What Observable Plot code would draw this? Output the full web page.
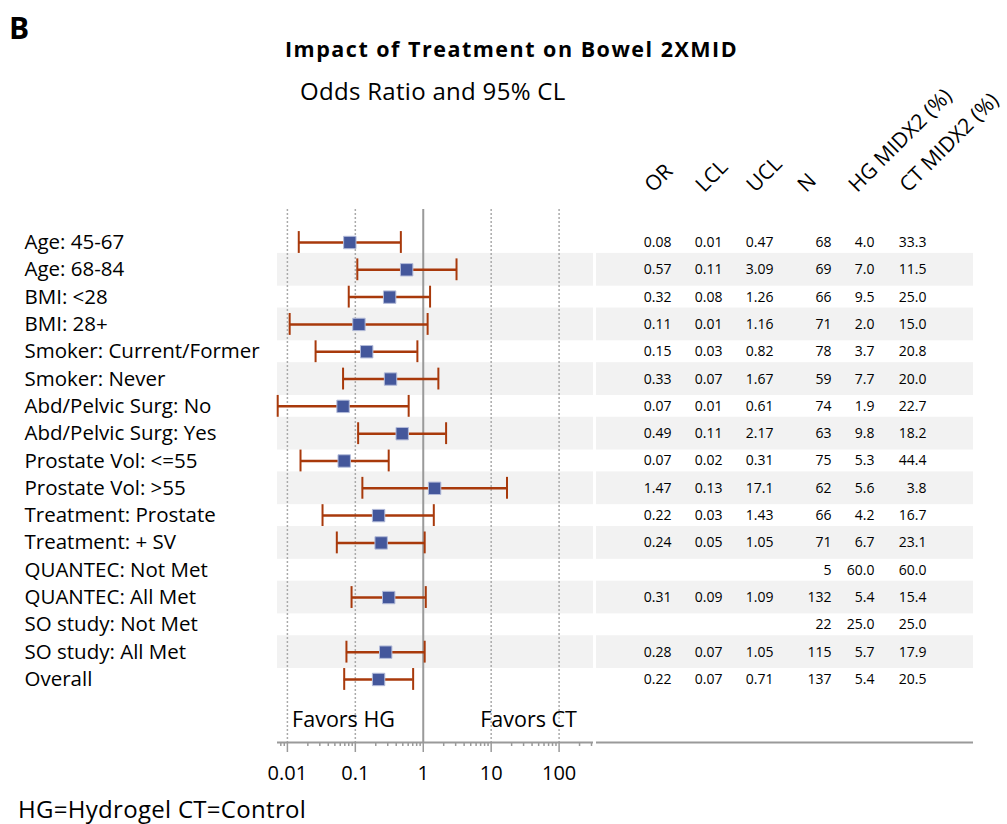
<!DOCTYPE html>
<html><head><meta charset="utf-8">
<script src="https://cdn.jsdelivr.net/npm/d3@7"></script>
<script src="https://cdn.jsdelivr.net/npm/@observablehq/plot@0.6"></script>
<style>
body{margin:0;background:#fff;font-family:"Open Sans",sans-serif;}
#wrap{position:relative;width:1007px;height:824px;overflow:hidden;background:#fff;}
.abs{position:absolute;white-space:nowrap;color:#000;line-height:1;}
</style></head><body>
<div id="wrap">
<div id="forest" class="abs" style="left:0;top:0"></div>
<div id="table" class="abs" style="left:596px;top:0"></div>
<div class="abs" style="left:9px;top:13px;font-weight:bold;font-size:30px;">B</div>
<div class="abs" style="left:285px;top:38px;font-weight:bold;font-size:21.5px;letter-spacing:1.5px;">Impact of Treatment on Bowel 2XMID</div>
<div class="abs" style="left:300px;top:79px;font-size:24px;letter-spacing:0.3px;">Odds Ratio and 95% CL</div>
<div class="abs" style="left:18px;top:797px;font-size:24px;letter-spacing:0.3px;">HG=Hydrogel CT=Control</div>
</div>
<script>
// ---- data ----
const labels = ["Age: 45-67","Age: 68-84","BMI: <28","BMI: 28+","Smoker: Current/Former","Smoker: Never",
  "Abd/Pelvic Surg: No","Abd/Pelvic Surg: Yes","Prostate Vol: <=55","Prostate Vol: >55","Treatment: Prostate",
  "Treatment: + SV","QUANTEC: Not Met","QUANTEC: All Met","SO study: Not Met","SO study: All Met","Overall"];
const orValues  = [0.083,0.57,0.32,0.113,0.147,0.33,0.066,0.49,0.0686,1.47,0.22,0.24,null,0.31,null,0.28,0.22];
const lclValues = [0.0147,0.107,0.08,0.0108,0.026,0.066,0.0072,0.11,0.0156,0.127,0.0329,0.0534,null,0.088,null,0.074,0.0686];
const uclValues = [0.468,3.09,1.26,1.16,0.82,1.67,0.61,2.17,0.31,17.1,1.43,1.05,null,1.09,null,1.05,0.71];
const orText  = ["0.08","0.57","0.32","0.11","0.15","0.33","0.07","0.49","0.07","1.47","0.22","0.24","","0.31","","0.28","0.22"];
const lclText = ["0.01","0.11","0.08","0.01","0.03","0.07","0.01","0.11","0.02","0.13","0.03","0.05","","0.09","","0.07","0.07"];
const uclText = ["0.47","3.09","1.26","1.16","0.82","1.67","0.61","2.17","0.31","17.1","1.43","1.05","","1.09","","1.05","0.71"];
const nText   = ["68","69","66","71","78","59","74","63","75","62","66","71","5","132","22","115","137"];
const hgText  = ["4.0","7.0","9.5","2.0","3.7","7.7","1.9","9.8","5.3","5.6","4.2","6.7","60.0","5.4","25.0","5.7","5.4"];
const ctText  = ["33.3","11.5","25.0","15.0","20.8","20.0","22.7","18.2","44.4","3.8","16.7","23.1","60.0","15.4","25.0","17.9","20.5"];
const columns = ["OR","LCL","UCL","N","HG MIDX2 (%)","CT MIDX2 (%)"];
const columnText = [orText, lclText, uclText, nText, hgText, ctText];
const majorTicks = [0.01, 0.1, 1, 10, 100];
const favors = [{text:"Favors HG", x:0.067}, {text:"Favors CT", x:35.5}];

// ---- layout ----
const H = 800, MT = 209, MB = 58;
const yDomain = [-0.2084, 19.308];
const xDomain = [0.00715, 321];
const font = "'Open Sans', sans-serif";
const errColor = "#a8390b", sqColor = "#44579b", axisGray = "#9a9a9a", band = "#f2f2f2";

const rows = labels.map((label, k) => ({i: k + 1, label, or: orValues[k], lcl: lclValues[k], ucl: uclValues[k]}));
const est = rows.filter(d => d.or != null);
const bands = rows.filter(d => d.i % 2 === 0);
const minorTicks = d3.scaleLog().domain(xDomain).ticks().filter(t => !majorTicks.includes(t));

const forest = Plot.plot({
  width: 596, height: H, marginTop: MT, marginBottom: MB, marginLeft: 277, marginRight: 3,
  style: {fontFamily: font, background: "transparent", overflow: "visible"},
  x: {type: "log", domain: xDomain},
  y: {domain: yDomain, range: [MT, H - MB], axis: null},
  marks: [
    Plot.rect(bands, {y1: d => d.i - 0.6, y2: d => d.i + 0.6, fill: band}),
    Plot.ruleX(majorTicks.filter(t => t !== 1), {stroke: "#aaaaaa", strokeWidth: 1.5, strokeDasharray: "2,2"}),
    Plot.ruleX([1], {stroke: axisGray, strokeWidth: 2}),
    Plot.ruleY(est, {x1: "lcl", x2: "ucl", y: "i", stroke: errColor, strokeWidth: 2.5}),
    Plot.ruleX(est, {x: "lcl", y1: d => d.i - 0.4, y2: d => d.i + 0.4, stroke: errColor, strokeWidth: 2}),
    Plot.ruleX(est, {x: "ucl", y1: d => d.i - 0.4, y2: d => d.i + 0.4, stroke: errColor, strokeWidth: 2}),
    Plot.dot(est, {x: "or", y: "i", symbol: "square", r: 7, fill: sqColor, stroke: "#b3bbd9", strokeWidth: 1, fillOpacity: 1}),
    Plot.text(rows, {y: "i", text: "label", frameAnchor: "left", textAnchor: "start", dx: -253, fontSize: 20.5, fill: "#000"}),
    Plot.text(favors, {x: "x", y: () => 18.5, text: "text", fontSize: 21.5, fill: "#000"}),
    Plot.ruleY([yDomain[1]], {stroke: axisGray, strokeWidth: 2}),
    Plot.axisX(minorTicks, {tickSize: 4, tickFormat: () => "", stroke: axisGray, strokeWidth: 1.5}),
    Plot.axisX(majorTicks, {tickSize: 10, tickPadding: 13, tickFormat: d => String(d), fontSize: 20, stroke: axisGray, fill: "#000", strokeWidth: 1.5})
  ]
});
document.getElementById("forest").appendChild(forest);

const tableRows = rows.map((d, k) => ({i: d.i, vals: columnText.map(c => c[k])}));
const valueDx = [28, 28, 28, 35, 27, 28];
const table = Plot.plot({
  width: 411, height: H, marginTop: MT, marginBottom: MB, marginLeft: 0, marginRight: 34,
  style: {fontFamily: font, background: "transparent", overflow: "visible"},
  x: {type: "point", domain: columns, range: [47, 302], padding: 0, axis: null},
  y: {domain: yDomain, range: [MT, H - MB], axis: null},
  marks: [
    Plot.rect(bands, {y1: d => d.i - 0.6, y2: d => d.i + 0.6, fill: band}),
    Plot.ruleY([yDomain[1]], {stroke: axisGray, strokeWidth: 2}),
    Plot.text(columns, {x: d => d, y: () => -0.98, text: d => d, rotate: -45, textAnchor: "start", dx: 5, fontSize: 21, fill: "#000"}),
    ...columns.map((c, j) => Plot.text(tableRows.filter(d => d.vals[j] !== ""), {
      x: () => c, y: "i", text: d => d.vals[j], textAnchor: "end", dx: valueDx[j], fontSize: 14, fill: "#000"
    }))
  ]
});
document.getElementById("table").appendChild(table);
</script>
</body></html>
